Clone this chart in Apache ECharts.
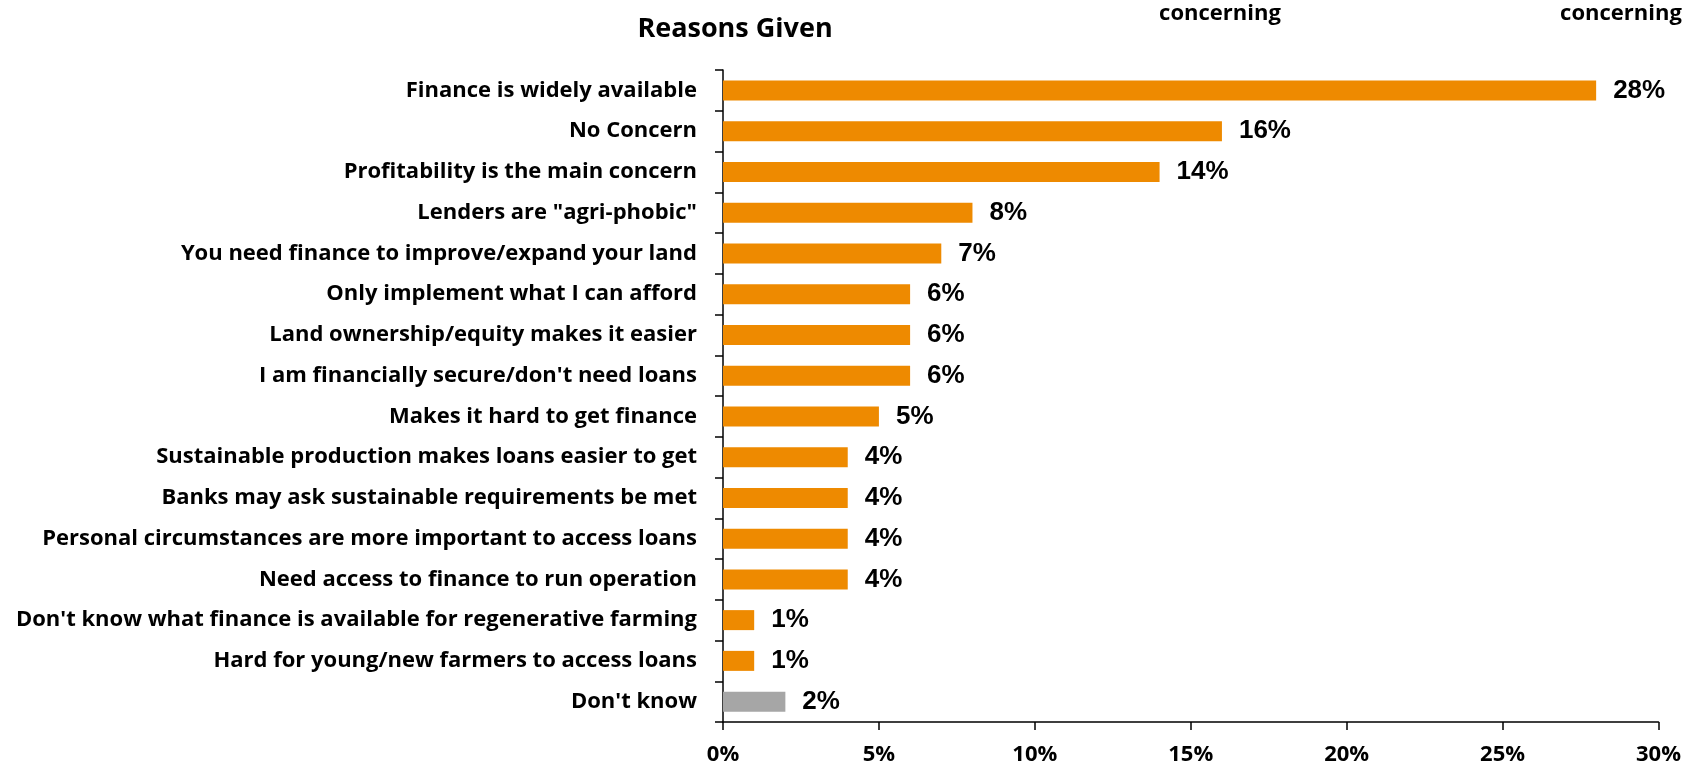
<!DOCTYPE html>
<html>
<head>
<meta charset="utf-8">
<style>
  html, body { margin: 0; padding: 0; background: #ffffff; }
  #chart { width: 1684px; height: 767px; }
</style>
<script src="https://cdn.jsdelivr.net/npm/echarts@6/dist/echarts.min.js"></script>
</head>
<body>
<div id="chart"></div>
<script>
// Survey reasons, listed top to bottom
const categories = [
  'Finance is widely available',
  'No Concern',
  'Profitability is the main concern',
  'Lenders are "agri-phobic"',
  'You need finance to improve/expand your land',
  'Only implement what I can afford',
  'Land ownership/equity makes it easier',
  "I am financially secure/don't need loans",
  'Makes it hard to get finance',
  'Sustainable production makes loans easier to get',
  'Banks may ask sustainable requirements be met',
  'Personal circumstances are more important to access loans',
  'Need access to finance to run operation',
  "Don't know what finance is available for regenerative farming",
  'Hard for young/new farmers to access loans',
  "Don't know"
];
// Share of respondents (%)
const shares = [28, 16, 14, 8, 7, 6, 6, 6, 5, 4, 4, 4, 4, 1, 1, 2];
// The "Don't know" answer is drawn in grey
const neutralCategory = "Don't know";

const headerTitle = 'Reasons Given';
const columnHeaders = ['concerning', 'concerning'];

const ORANGE = '#EE8A00';
const GREY = '#A6A6A6';
const TEXT_FONT = 'Open Sans';

const chart = echarts.init(document.getElementById('chart'));

chart.setOption({
  animation: false,
  backgroundColor: '#ffffff',
  grid: { left: 723, right: 24, top: 70, bottom: 45, containLabel: false },
  graphic: [
    { type: 'text', x: 735, y: 29,
      style: { text: headerTitle, align: 'center', verticalAlign: 'middle',
               fontFamily: TEXT_FONT, fontWeight: 'bold', fontSize: 27, fill: '#000' } },
    { type: 'text', x: 1220, y: 14,
      style: { text: columnHeaders[0], align: 'center', verticalAlign: 'middle',
               fontFamily: TEXT_FONT, fontWeight: 'bold', fontSize: 22, fill: '#000' } },
    { type: 'text', x: 1621, y: 14,
      style: { text: columnHeaders[1], align: 'center', verticalAlign: 'middle',
               fontFamily: TEXT_FONT, fontWeight: 'bold', fontSize: 22, fill: '#000' } }
  ],
  xAxis: {
    type: 'value',
    min: 0, max: 30, interval: 5,
    axisLine: { show: true, lineStyle: { color: '#000', width: 1.5 } },
    axisTick: { show: true, length: 8, lineStyle: { color: '#000', width: 1.5 } },
    splitLine: { show: false },
    axisLabel: {
      formatter: '{value}%', margin: 22,
      fontFamily: TEXT_FONT, fontWeight: 'bold', fontSize: 22, color: '#000'
    }
  },
  yAxis: {
    type: 'category',
    data: categories,
    inverse: true,
    axisLine: { show: true, lineStyle: { color: '#000', width: 1.5 } },
    axisTick: { show: true, length: 8, lineStyle: { color: '#000', width: 1.5 } },
    axisLabel: {
      margin: 26,
      fontFamily: TEXT_FONT, fontWeight: 'bold', fontSize: 22, color: '#000'
    }
  },
  series: [{
    type: 'bar',
    barWidth: 20,
    data: categories.map((c, i) => ({
      value: shares[i],
      itemStyle: { color: c === neutralCategory ? GREY : ORANGE }
    })),
    label: {
      show: true, position: 'right', distance: 17,
      formatter: '{c}%',
      fontFamily: 'Liberation Sans', fontWeight: 'bold', fontSize: 26, color: '#000'
    }
  }]
});
</script>
</body>
</html>
